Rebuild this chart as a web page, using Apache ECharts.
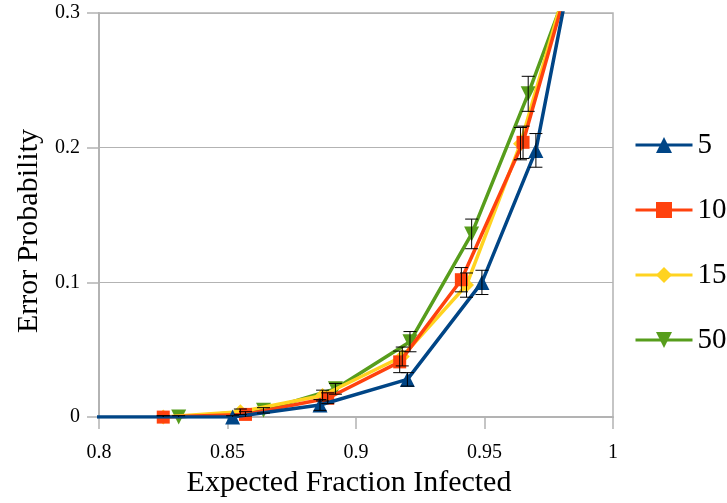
<!DOCTYPE html>
<html>
<head>
<meta charset="utf-8">
<script src="https://cdn.jsdelivr.net/npm/echarts@6/dist/echarts.min.js"></script>
<style>html,body{margin:0;padding:0;background:#fff}#c{width:727px;height:503px}</style>
</head>
<body>
<div id="c"></div>
<script>
const seriesNames = ['5', '10', '15', '50'];
const x5  = [0.79, 0.852, 0.886, 0.920, 0.949, 0.970, 0.985];
const y5  = [0.000, 0.000, 0.009, 0.028, 0.100, 0.198, 0.345];
const e5  = [0.000, 0.001, 0.004, 0.005, 0.009, 0.0125, 0.015];
const x10 = [0.825, 0.857, 0.889, 0.917, 0.941, 0.965, 0.983];
const y10 = [0.000, 0.002, 0.014, 0.041, 0.102, 0.204, 0.325];
const e10 = [0.001, 0.002, 0.004, 0.008, 0.009, 0.012, 0.015];
const x15 = [0.825, 0.855, 0.887, 0.918, 0.943, 0.964, 0.982];
const y15 = [0.000, 0.004, 0.016, 0.045, 0.098, 0.203, 0.322];
const e15 = [0.001, 0.002, 0.004, 0.007, 0.009, 0.012, 0.015];
const x50 = [0.831, 0.864, 0.892, 0.921, 0.945, 0.967, 0.982];
const y50 = [0.000, 0.005, 0.021, 0.056, 0.136, 0.240, 0.317];
const e50 = [0.001, 0.002, 0.004, 0.0075, 0.011, 0.013, 0.015];
const xTicks = [0.8, 0.85, 0.9, 0.95, 1];
const yTicks = [0, 0.1, 0.2, 0.3];

const colors = ['#004586', '#ff420e', '#ffd320', '#579d1c'];
const symbols = ['triangle', 'rect', 'diamond', 'path://M0,0 L10,0 L5,9 Z'];
const xs = [x5, x10, x15, x50], ys = [y5, y10, y15, y50], es = [e5, e10, e15, e50];
const FONT = 'Liberation Serif';

const lineSeries = seriesNames.map((n, i) => ({
  name: n,
  type: 'line',
  data: xs[i].map((x, k) => [x, ys[i][k]]),
  symbol: symbols[i],
  symbolSize: i === 1 ? 13 : 15,
  lineStyle: { color: colors[i], width: 3.5 },
  itemStyle: { color: colors[i] },
  z: 10 - i,
  clip: true,
  animation: false
}));

const errSeries = seriesNames.map((n, i) => ({
  type: 'custom',
  data: xs[i].map((x, k) => [x, ys[i][k], es[i][k]]),
  encode: { x: 0, y: 1 },
  clip: true,
  z: 20,
  silent: true,
  animation: false,
  renderItem: function (params, api) {
    const x = api.value(0), y = api.value(1), e = api.value(2);
    if (!e) return null;
    const t = api.coord([x, y + e]);
    const b = api.coord([x, y - e]);
    const hw = 6.5;
    const st = { stroke: '#000', lineWidth: 1 };
    return {
      type: 'group',
      children: [
        { type: 'line', shape: { x1: t[0], y1: t[1], x2: b[0], y2: b[1] }, style: st },
        { type: 'line', shape: { x1: t[0] - hw, y1: t[1], x2: t[0] + hw, y2: t[1] }, style: st },
        { type: 'line', shape: { x1: b[0] - hw, y1: b[1], x2: b[0] + hw, y2: b[1] }, style: st }
      ]
    };
  }
}));

const chart = echarts.init(document.getElementById('c'), null, { renderer: 'canvas' });
chart.setOption({
  animation: false,
  backgroundColor: '#fff',
  grid: { left: 99, right: 114, top: 13, bottom: 85, show: true, borderColor: '#b3b3b3', borderWidth: 1.5 },
  legend: {
    orient: 'vertical',
    left: 629,
    top: 125,
    itemWidth: 57,
    itemHeight: 20,
    itemGap: 35,
    data: seriesNames,
    lineStyle: { width: 3 },
    textStyle: { fontFamily: FONT, fontSize: 29, color: '#000', lineHeight: 30 }
  },
  xAxis: {
    type: 'value',
    min: xTicks[0], max: xTicks[xTicks.length - 1], interval: 0.05,
    name: 'Expected Fraction Infected',
    nameLocation: 'middle',
    nameGap: 48,
    nameTextStyle: { fontFamily: FONT, fontSize: 30, color: '#000', padding: [0, 14, 0, 0] },
    axisLine: { show: true, lineStyle: { color: '#b3b3b3', width: 2 } },
    axisTick: { show: true, length: 12, lineStyle: { color: '#b3b3b3', width: 1.5 } },
    axisLabel: { fontFamily: FONT, fontSize: 20, color: '#000', margin: 26,
      formatter: v => String(+v.toFixed(2)) },
    splitLine: { show: false }
  },
  yAxis: {
    type: 'value',
    min: yTicks[0], max: yTicks[yTicks.length - 1], interval: 0.1,
    name: 'Error Probability',
    nameLocation: 'middle',
    nameGap: 55,
    nameTextStyle: { fontFamily: FONT, fontSize: 30, color: '#000', padding: [0, 32, 0, 0] },
    axisLine: { show: true, lineStyle: { color: '#b3b3b3', width: 2 } },
    axisTick: { show: true, length: 12, lineStyle: { color: '#b3b3b3', width: 1.5 } },
    axisLabel: { fontFamily: FONT, fontSize: 20, color: '#000', margin: 19,
      formatter: v => String(+v.toFixed(1)) },
    splitLine: { show: true, lineStyle: { color: '#b3b3b3', width: 1 } }
  },
  series: lineSeries.concat(errSeries)
});
</script>
</body>
</html>
